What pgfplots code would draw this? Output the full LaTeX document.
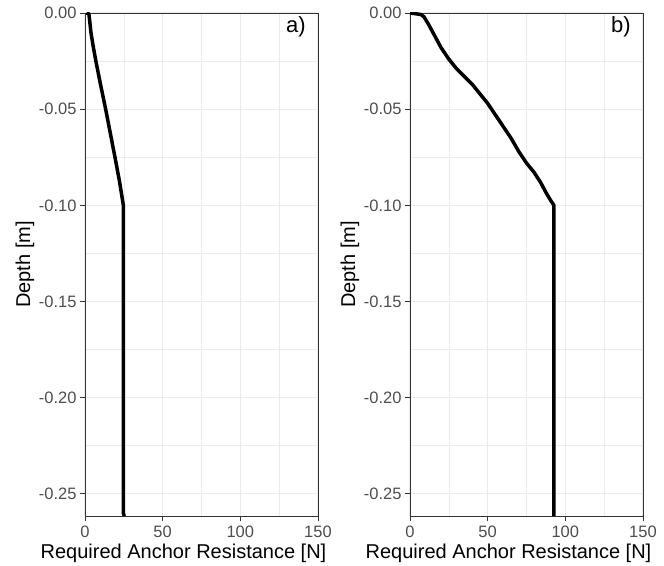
\documentclass[border=0pt]{standalone}
\usepackage{fontspec}
\setmainfont{Liberation Sans}
\usepackage{pgfplots}
\pgfplotsset{compat=1.18}
\definecolor{tickgray}{HTML}{4D4D4D}
\definecolor{gridgray}{HTML}{EBEBEB}
\definecolor{framegray}{HTML}{333333}
\pgfplotsset{panel/.style={
  scale only axis, width=233pt, height=503pt,
  xmin=0, xmax=150, ymin=-0.2615, ymax=0,
  xtick={0,50,100,150},
  ytick={-0.25,-0.2,-0.15,-0.1,-0.05,0},
  yticklabels={-0.25,-0.20,-0.15,-0.10,-0.05,0.00},
  minor xtick={25,75,125},
  minor ytick={-0.225,-0.175,-0.125,-0.075,-0.025},
  grid=both,
  major grid style={gridgray, line width=1.1pt},
  minor grid style={gridgray, line width=0.6pt},
  axis line style={framegray, line width=0.8pt},
  tick align=outside, major tick length=5pt, minor tick length=0pt,
  tick style={framegray, line width=0.8pt},
  xtick pos=bottom, ytick pos=left,
  ticklabel style={font=\fontsize{16.5}{16.5}\selectfont, text=tickgray},
  xticklabel style={yshift=-1pt},
  /pgf/number format/assume math mode=true,
  xlabel={Required Anchor Resistance [N]}, ylabel={Depth [m]},
  label style={font=\fontsize{20}{20}\selectfont},
  xlabel style={at={(axis description cs:0.5,0)}, anchor=center, yshift=-37pt, xshift=-18pt},
  ylabel style={at={(axis description cs:0,0.5)}, anchor=center, yshift=60pt},
  clip=true,
}}
\begin{document}
\begin{tikzpicture}
\useasboundingbox (0,0) rectangle (664pt,565pt);
\begin{axis}[panel, at={(85pt,49pt)}, anchor=south west]
\addplot[black, line width=3.5pt, line join=round] coordinates {
(1,0) (2.5,-0.0005) (3,-0.004) (3.8,-0.01) (5.2,-0.017) (7,-0.025) (9.7,-0.036)
(13.3,-0.05) (16.3,-0.0625) (19.3,-0.075) (22.2,-0.0875) (24.7,-0.1)
(24.7,-0.26) (25.3,-0.2615)};
\node[font=\fontsize{22}{22}\selectfont, anchor=center] at (rel axis cs:0.905,0.972) {a)};
\end{axis}
\begin{axis}[panel, at={(410pt,49pt)}, anchor=south west]
\addplot[black, line width=3.5pt, line join=round] coordinates {
(0,0) (3,-0.0003) (7,-0.0008) (9,-0.002) (12,-0.006) (16,-0.012) (20,-0.018)
(25,-0.024) (30,-0.029) (35,-0.033) (40,-0.037) (45,-0.042) (50,-0.047)
(55,-0.053) (60,-0.059) (65,-0.065) (70,-0.072) (75,-0.078) (80,-0.083)
(84,-0.088) (88,-0.094) (91,-0.098) (92.7,-0.1) (92.7,-0.2615)};
\node[font=\fontsize{22}{22}\selectfont, anchor=center] at (rel axis cs:0.905,0.972) {b)};
\end{axis}
\end{tikzpicture}
\end{document}
